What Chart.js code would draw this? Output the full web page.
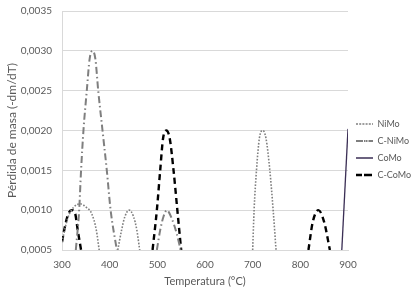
<!DOCTYPE html>
<html>
<head>
<meta charset="utf-8">
<script src="https://cdn.jsdelivr.net/npm/chart.js@4/dist/chart.umd.min.js"></script>
<style>
html,body{margin:0;padding:0;background:#fff;}
canvas{display:block;}
</style>
</head>
<body>
<canvas id="c" width="415" height="292"></canvas>
<script>
// ---- data (temperature °C, mass-loss value); null separates arcs ----
const nimoT = [300,312,325,338,352,362,372,378, null, 417,425,432,441,450,457,463, null, 700,703,708,714,721,728,736,743,749];
const nimoV = [0.00060,0.00090,0.00104,0.00108,0.00103,0.00096,0.00075,0.00050, null, 0.00050,0.00075,0.00092,0.00100,0.00092,0.00075,0.00050, null, 0.00050,0.00100,0.00150,0.00190,0.00200,0.00190,0.00150,0.00100,0.00050];

const cnimoT = [329,336,340,345,352,358,364,370,376,385,394,402,415, null, 499,506,513,520,530,540,549];
const cnimoV = [0.00050,0.00100,0.00150,0.00200,0.00250,0.00290,0.00300,0.00290,0.00250,0.00200,0.00150,0.00100,0.00050, null, 0.00050,0.00075,0.00092,0.00100,0.00090,0.00072,0.00050];

const comoT = [887,900];
const comoV = [0.00050,0.00202];

const ccomoT = [300,306,313,320,327,333,340, null, 490,499,506,512,519,526,534,542,550, null, 817,826,838,850,862];
const ccomoV = [0.00060,0.00079,0.00095,0.00100,0.00097,0.00075,0.00050, null, 0.00050,0.00100,0.00150,0.00190,0.00200,0.00190,0.00150,0.00100,0.00050, null, 0.00050,0.00085,0.00100,0.00085,0.00050];

const seriesNames = ['NiMo','C-NiMo','CoMo','C-CoMo'];
const xTicks = [300,400,500,600,700,800,900];
const yTicks = [0.0005,0.0010,0.0015,0.0020,0.0025,0.0030,0.0035];

function pts(t, v){ return t.map((x,i)=> x===null ? {x:null,y:null} : {x:x,y:v[i]}); }

const FONT = "Lato, 'Open Sans', 'Liberation Sans', sans-serif";
const TXT = '#595959';

new Chart(document.getElementById('c'), {
  type: 'line',
  data: {
    datasets: [
      {label: seriesNames[0], data: pts(nimoT,nimoV), borderColor:'#7f7f7f', backgroundColor:'transparent', borderWidth:1.6, borderDash:[1.6,1.6], borderCapStyle:'butt'},
      {label: seriesNames[1], data: pts(cnimoT,cnimoV), borderColor:'#7f7f7f', backgroundColor:'transparent', borderWidth:2, borderDash:[7,3,1.5,3]},
      {label: seriesNames[2], data: pts(comoT,comoV), borderColor:'#3b2f55', backgroundColor:'transparent', borderWidth:1.3},
      {label: seriesNames[3], data: pts(ccomoT,ccomoV), borderColor:'#000000', backgroundColor:'transparent', borderWidth:2.4, borderDash:[6,4]}
    ]
  },
  options: {
    responsive: false,
    animation: false,
    spanGaps: false,
    elements: { point: { radius: 0 }, line: { tension: 0.4, cubicInterpolationMode: 'monotone' } },
    layout: { padding: { top: 0, right: 4, left: 4, bottom: 2 } },
    plugins: {
      tooltip: { enabled: false },
      legend: {
        position: 'right',
        maxWidth: 63,
        title: { display: true, text: ' ', font: { size: 7.5 }, padding: 0 },
        labels: {
          boxWidth: 17, boxHeight: 0, padding: 8,
          color: TXT,
          font: { family: FONT, size: 9 }
        }
      }
    },
    scales: {
      x: {
        type: 'linear', min: 300, max: 900,
        afterBuildTicks: ax => { ax.ticks = xTicks.map(v=>({value:v})); },
        afterFit: s => { s.height = 40; },
        grid: { display: false, drawTicks: false },
        border: { display: true, color: '#d9d9d9' },
        ticks: { color: TXT, font: { family: FONT, size: 10 }, padding: 9, maxRotation: 0 },
        title: { display: true, text: 'Temperatura (°C)', color: TXT, font: { family: FONT, size: 11 }, padding: { top: 3, bottom: 2 } }
      },
      y: {
        min: 0.0005, max: 0.0035,
        afterBuildTicks: ax => { ax.ticks = yTicks.map(v=>({value:v})); },
        afterFit: s => { s.width = 58; s.paddingTop = 11; s.paddingBottom = 0; },
        grid: { color: '#d9d9d9', drawTicks: false },
        border: { display: true, color: '#d9d9d9' },
        ticks: { color: TXT, font: { family: FONT, size: 10 }, padding: 10,
                 callback: v => Number(v).toFixed(4).replace('.', ',') },
        title: { display: true, text: 'Pérdida de masa (-dm/dT)', color: TXT, font: { family: FONT, size: 12 }, padding: { top: 1, bottom: 1 } }
      }
    }
  }
});
</script>
</body>
</html>
